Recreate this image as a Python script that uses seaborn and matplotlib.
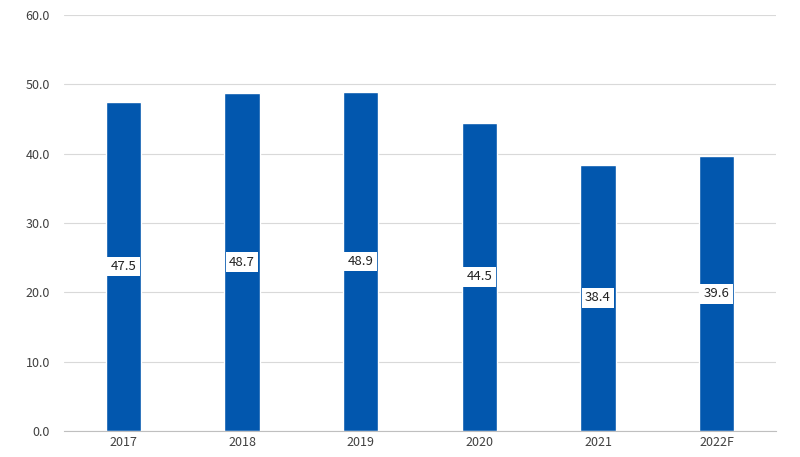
import matplotlib
matplotlib.use("Agg")
import matplotlib.pyplot as plt
import seaborn as sns
import pandas as pd

years = ["2017", "2018", "2019", "2020", "2021", "2022F"]
values = [47.5, 48.7, 48.9, 44.5, 38.4, 39.6]
yticks = [0, 10, 20, 30, 40, 50, 60]

sns.set_style("white")
plt.rcParams['font.family'] = ['Noto Sans CJK SC', 'DejaVu Sans']
df = pd.DataFrame({"year": years, "value": values})
fig = plt.figure(figsize=(8, 4.57), dpi=100)
ax = fig.add_axes([0.08, 0.057, 0.89, 0.91])
sns.barplot(data=df, x="year", y="value", color="#0257AE", saturation=1, width=0.3, ax=ax)
ax.set_ylim(0, 60)
ax.set_yticks(yticks)
ax.set_yticklabels([f"{v:.1f}" for v in yticks], fontsize=9, color="#404040")
ax.tick_params(axis="x", labelsize=9, colors="#404040", length=0)
ax.tick_params(axis="y", length=0, pad=10)
ax.yaxis.grid(True, color="#D9D9D9", linewidth=0.8)
ax.set_axisbelow(True)
for s in ["left", "right", "top"]:
    ax.spines[s].set_visible(False)
ax.spines["bottom"].set_color("#BFBFBF")
ax.set_xlabel("")
ax.set_ylabel("")
for i, v in enumerate(values):
    ax.text(i, v / 2, f"{v:.1f}", ha="center", va="center", fontsize=9.5, color="#222222",
            bbox=dict(boxstyle="square,pad=0.25", facecolor="white", edgecolor="none"))
fig.savefig("out.png", dpi=100)
